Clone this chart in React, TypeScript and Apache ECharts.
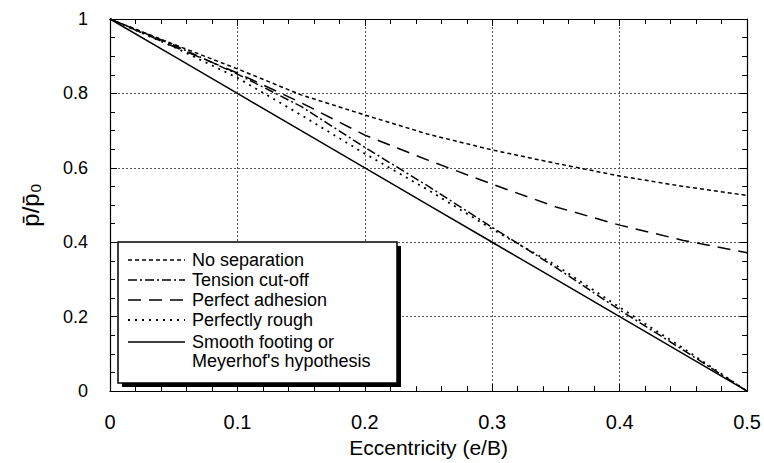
import React, { useEffect, useRef } from "react";
import * as echarts from "echarts";

const eccentricity = [0, 0.05, 0.1, 0.15, 0.2, 0.25, 0.3, 0.35, 0.4, 0.45, 0.5];
const noSeparation = [1, 0.932, 0.866, 0.796, 0.742, 0.69, 0.648, 0.612, 0.578, 0.55, 0.526];
const tensionCutoff = [1, 0.93, 0.852, 0.765, 0.655, 0.55, 0.44, 0.332, 0.218, 0.11, 0];
const perfectAdhesion = [1, 0.926, 0.855, 0.775, 0.688, 0.62, 0.556, 0.495, 0.446, 0.405, 0.372];
const perfectlyRough = [1, 0.925, 0.842, 0.742, 0.638, 0.54, 0.435, 0.338, 0.225, 0.115, 0];
const smoothFooting = [1, 0.9, 0.8, 0.7, 0.6, 0.5, 0.4, 0.3, 0.2, 0.1, 0];

const seriesNames = [
  "No separation",
  "Tension cut-off",
  "Perfect adhesion",
  "Perfectly rough",
  "Smooth footing or\nMeyerhof's hypothesis",
];

const FONT = "'Liberation Sans', Arial, Helvetica, sans-serif";

const dashes: (number[] | "solid")[] = [
  [4, 3],
  [9, 3, 2, 3],
  [13, 8],
  [2, 5],
  "solid",
];

export default function App() {
  const ref = useRef<HTMLDivElement>(null);
  useEffect(() => {
    if (!ref.current) return;
    const chart = echarts.init(ref.current, null, { renderer: "svg" });
    const all = [noSeparation, tensionCutoff, perfectAdhesion, perfectlyRough, smoothFooting];
    const series = all.map((vals, i) => ({
      name: seriesNames[i],
      type: "line",
      symbol: "none",
      data: eccentricity.map((e, j) => [e, vals[j]]),
      lineStyle: { color: "#000", width: i === 3 ? 1.8 : 1.5, type: dashes[i] },
      z: 3,
    }));

    const axisCommon = {
      type: "value",
      axisLine: { show: true, onZero: false, lineStyle: { color: "#000", width: 1.2 } },
      axisTick: { show: true, inside: true, length: 7, lineStyle: { color: "#000" } },
    };

    // legend drawn as graphics
    const lx = 118, ly = 242, lw = 279, lh = 141;
    const rows = [260, 280, 300, 320, 342];
    const legendEls: any[] = [
      { type: "rect", shape: { x: lx + 4, y: ly + 4, width: lw, height: lh }, style: { fill: "#000" }, z: 100, silent: true },
      { type: "rect", shape: { x: lx, y: ly, width: lw, height: lh }, style: { fill: "#fff", stroke: "#000", lineWidth: 1.5 }, z: 101, silent: true },
    ];
    seriesNames.forEach((name, i) => {
      legendEls.push({
        type: "line",
        shape: { x1: 128, y1: rows[i], x2: 185, y2: rows[i] },
        style: { stroke: "#000", lineWidth: i === 3 ? 1.8 : 1.5, lineDash: dashes[i] === "solid" ? null : dashes[i] },
        z: 102,
        silent: true,
      });
      const lines = name.split("\n");
      lines.forEach((t, k) => {
        legendEls.push({
          type: "text",
          x: 192,
          y: rows[i] + k * 19,
          style: { text: t, fill: "#000", font: `18px ${FONT}`, verticalAlign: "middle", align: "left" },
          z: 102,
          silent: true,
        });
      });
    });

    chart.setOption({
      animation: false,
      backgroundColor: "#fff",
      grid: { left: 110, right: 13, top: 19, bottom: 60, containLabel: false },
      xAxis: [
        {
          ...axisCommon,
          position: "bottom",
          min: 0,
          max: 0.5,
          interval: 0.1,
          minorTick: { show: true, splitNumber: 5, length: 5, lineStyle: { color: "#000" } },
          splitLine: { show: true, lineStyle: { type: [2, 2], color: "#555", width: 1 } },
          axisLabel: { color: "#000", fontSize: 20, fontFamily: FONT, margin: 21 },
          name: "Eccentricity (e/B)",
          nameLocation: "middle",
          nameGap: 43,
          nameTextStyle: { color: "#000", fontSize: 21, fontFamily: FONT },
        },
        {
          ...axisCommon,
          position: "top",
          min: 0,
          max: 0.5,
          interval: 0.1,
          minorTick: { show: true, splitNumber: 5, length: 5, lineStyle: { color: "#000" } },
          splitLine: { show: false },
          axisLabel: { show: false },
        },
      ],
      yAxis: [
        {
          ...axisCommon,
          position: "left",
          min: 0,
          max: 1,
          interval: 0.2,
          minorTick: { show: true, splitNumber: 4, length: 5, lineStyle: { color: "#000" } },
          splitLine: { show: true, lineStyle: { type: [2, 2], color: "#555", width: 1 } },
          axisLabel: { color: "#000", fontSize: 18, fontFamily: FONT, margin: 22 },
          name: "p\u0304/p\u0304\u2080",
          nameLocation: "middle",
          nameRotate: 90,
          nameGap: 68,
          nameTextStyle: { color: "#000", fontSize: 24, fontFamily: FONT },
        },
        {
          ...axisCommon,
          position: "right",
          min: 0,
          max: 1,
          interval: 0.2,
          minorTick: { show: true, splitNumber: 4, length: 5, lineStyle: { color: "#000" } },
          splitLine: { show: false },
          axisLabel: { show: false },
        },
      ],
      series,
      graphic: legendEls,
    });
    return () => chart.dispose();
  }, []);
  return (
    <div
      ref={ref}
      style={{ position: "fixed", left: 0, top: 0, width: 764, height: 463, background: "#fff" }}
    />
  );
}
